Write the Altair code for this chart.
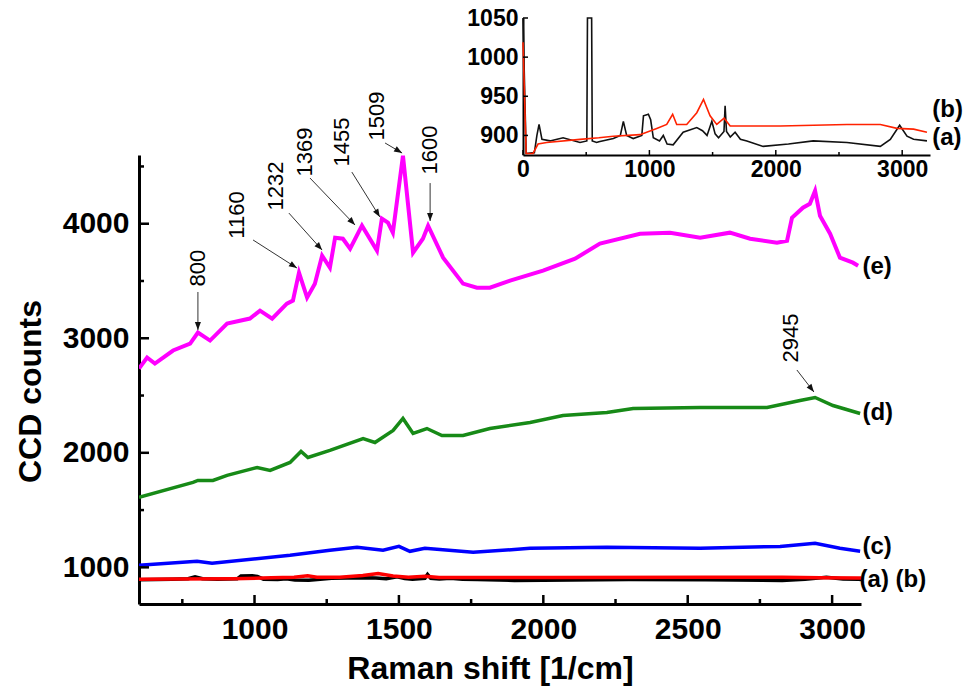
import math
import altair as alt
import pandas as pd

FONT = "Liberation Sans"

# ---------------- data ----------------
# (e) magenta
e_x = [600, 628, 655, 718, 777, 804, 846, 905, 984, 1019, 1061, 1112, 1133, 1154, 1182, 1209,
       1234, 1261, 1279, 1306, 1331, 1372, 1424, 1441, 1462, 1479, 1514, 1549, 1583, 1601, 1653,
       1722, 1770, 1815, 1885, 1999, 2110, 2196, 2335, 2439, 2543, 2646, 2716, 2809, 2844, 2861,
       2899, 2923, 2941, 2958, 2993, 3027, 3072, 3090]
e_y = [2736, 2832, 2779, 2893, 2954, 3050, 2980, 3128, 3172, 3241, 3172, 3302, 3329, 3573, 3355, 3477,
       3721, 3616, 3878, 3869, 3782, 3983, 3765, 4044, 4009, 3922, 4593, 3747, 3869, 3983, 3704,
       3477, 3442, 3442, 3503, 3590, 3695, 3826, 3913, 3922, 3878, 3922, 3869, 3834, 3852, 4052,
       4140, 4174, 4288, 4070, 3913, 3704, 3660, 3634]
# (d) green
d_x = [600, 787, 804, 856, 905, 1009, 1054, 1123, 1161, 1185, 1261, 1376, 1417, 1480, 1514, 1549,
       1597, 1649, 1722, 1815, 1954, 2068, 2220, 2311, 2543, 2775, 2889, 2941, 3003, 3097]
d_y = [1611, 1742, 1759, 1759, 1803, 1872, 1846, 1916, 2012, 1959, 2021, 2125, 2090, 2195, 2300, 2169,
       2212, 2151, 2151, 2212, 2265, 2326, 2352, 2387, 2396, 2396, 2457, 2483, 2413, 2343]
# (c) blue
c_x = [600, 801, 853, 1123, 1261, 1355, 1445, 1500, 1538, 1590, 1757, 1954, 2220, 2543, 2820, 2941, 3027, 3097]
c_y = [1018, 1053, 1035, 1105, 1149, 1175, 1149, 1183, 1140, 1166, 1131, 1166, 1175, 1166, 1183, 1210, 1166, 1140]
# (a) black
a_x = [0, 25, 90, 110, 127, 150, 214, 317, 451, 505, 510, 543, 548, 583, 600, 715, 770, 794, 820, 872,
       940, 953, 992, 1010, 1031, 1080, 1110, 1140, 1188, 1267, 1375, 1420, 1456, 1494, 1520, 1547,
       1590, 1599, 1610, 1640, 1678, 1720, 1771, 1900, 2100, 2296, 2563, 2827, 2906, 2980, 3038, 3090, 3196]
a_y = [1050, 877, 878, 900, 914, 895, 893, 897, 891, 893, 1050, 1050, 893, 891, 892, 896, 900, 918, 900, 896,
       900, 925, 927, 920, 897, 893, 900, 889, 888, 904, 910, 906, 900, 918, 902, 897,
       905, 938, 905, 898, 904, 895, 893, 886, 889, 893, 891, 886, 895, 913, 899, 895, 893]
# (b) red
b_x = [0, 25, 55, 79, 119, 187, 451, 600, 715, 926, 1058, 1137, 1184, 1216, 1295, 1375, 1428, 1480,
       1533, 1591, 1639, 2035, 2563, 2827, 2959, 3090, 3196]
b_y = [1019, 877, 877, 877, 889, 891, 895, 897, 899, 901, 909, 914, 927, 914, 914, 929, 946, 925,
       914, 922, 912, 912, 914, 914, 909, 908, 904]

# peak annotations
ann_text = ["800", "1160", "1232", "1369", "1455", "1509", "1600", "2945"]
ann_x = [804, 939, 1074, 1175, 1303, 1424, 1608, 2858]
ann_y = [3613, 4076, 4329, 4626, 4713, 4940, 4643, 3002]
arr_x0 = [804, 995, 1119, 1192, 1337, 1452, 1608, 2878]
arr_y0 = [3404, 3858, 4093, 4399, 4451, 4705, 4355, 2723]
arr_x1 = [804, 1147, 1234, 1348, 1434, 1511, 1608, 2937]
arr_y1 = [3072, 3613, 3770, 3989, 4059, 4617, 4024, 2531]

# series labels
lab_text = ["(e)", "(d)", "(c)", "(a) (b)"]
lab_x = [3105, 3105, 3105, 3095]
lab_y = [3622, 2347, 1178, 890]
ilab_text = ["(b)", "(a)"]
ilab_x = [3238, 3238]
ilab_y = [932, 897]

# axis ticks
mx_major = [1000, 1500, 2000, 2500, 3000]
mx_minor = [750, 1250, 1750, 2250, 2750]
my_major = [1000, 2000, 3000, 4000]
my_minor = [1500, 2500, 3500, 4500]
ix_major = [0, 1000, 2000, 3000]
ix_minor = [500, 1500, 2500]
iy_major = [900, 950, 1000, 1050]

# ---------------- layout ----------------
W, H = 722, 449
X_DOM, Y_DOM = [600, 3100], [680, 4600]
IX_DOM, IY_DOM = [0, 3220], [875, 1050]
IX_RANGE, IY_RANGE = [384, 791], [0, -137]

xs = alt.Scale(domain=X_DOM, range=[0, W], nice=False, zero=False)
ys = alt.Scale(domain=Y_DOM, range=[H, 0], nice=False, zero=False)
ixs = alt.Scale(domain=IX_DOM, range=IX_RANGE, nice=False, zero=False)
iys = alt.Scale(domain=IY_DOM, range=IY_RANGE, nice=False, zero=False)


def df(**cols):
    return pd.DataFrame(cols)


main_x_axis = alt.Axis(values=mx_major, format="d", orient="bottom", grid=False, ticks=False,
                       domainColor="black", domainWidth=3, labelFont=FONT, labelFontSize=30,
                       labelFontWeight="bold", labelColor="black", labelPadding=10,
                       labelFlush=False, labelOverlap=False,
                       title="Raman shift [1/cm]", titleFont=FONT, titleFontSize=32,
                       titleFontWeight="bold", titleColor="black", titleX=351, titleY=64,
                       titleAlign="center", titleBaseline="middle")
main_y_axis = alt.Axis(values=my_major, format="d", orient="left", grid=False, ticks=False,
                       domainColor="black", domainWidth=3, labelFont=FONT, labelFontSize=30,
                       labelFontWeight="bold", labelColor="black", labelPadding=10,
                       labelFlush=False, labelOverlap=False,
                       title="CCD counts", titleFont=FONT, titleFontSize=32, titleFontWeight="bold",
                       titleColor="black", titleAngle=270, titleX=-109, titleY=236,
                       titleAlign="center", titleBaseline="middle")


def main_line(xv, yv, color, width, axes=False):
    return alt.Chart(df(x=xv, y=yv)).mark_line(color=color, strokeWidth=width, clip=True).encode(
        x=alt.X("x:Q", scale=xs, axis=main_x_axis if axes else None),
        y=alt.Y("y:Q", scale=ys, axis=main_y_axis if axes else None),
    )


def xticks(vals, length, scale, base=H, width=2.5):
    return alt.Chart(df(v=vals)).mark_rule(color="black", strokeWidth=width).encode(
        x=alt.X("v:Q", scale=scale, axis=None), y=alt.value(base), y2=alt.value(base - length))


def yticks(vals, length, scale, base=0, width=2.5):
    return alt.Chart(df(v=vals)).mark_rule(color="black", strokeWidth=width).encode(
        y=alt.Y("v:Q", scale=scale, axis=None), x=alt.value(base), x2=alt.value(base + length))


# arrow angles in screen space
px_x = W / (X_DOM[1] - X_DOM[0])
px_y = H / (Y_DOM[1] - Y_DOM[0])
angles = []
for x0, y0, x1, y1 in zip(arr_x0, arr_y0, arr_x1, arr_y1):
    dx = (x1 - x0) * px_x
    dy = -(y1 - y0) * px_y
    angles.append(math.degrees(math.atan2(dx, -dy)) % 360)

arrows = alt.Chart(df(x0=arr_x0, y0=arr_y0, x1=arr_x1, y1=arr_y1)).mark_rule(
    color="#333333", strokeWidth=1).encode(
    x=alt.X("x0:Q", scale=xs, axis=None), y=alt.Y("y0:Q", scale=ys, axis=None),
    x2="x1:Q", y2="y1:Q")
heads = alt.Chart(df(x=arr_x1, y=arr_y1, a=angles)).mark_point(
    shape="M0,0L0.38,1L-0.38,1Z", filled=True, color="#111111", size=256, opacity=1).encode(
    x=alt.X("x:Q", scale=xs, axis=None), y=alt.Y("y:Q", scale=ys, axis=None),
    angle=alt.Angle("a:Q", scale=None))
ann = alt.Chart(df(t=ann_text, x=ann_x, y=ann_y)).mark_text(
    angle=270, font=FONT, fontSize=22, color="black", align="center", baseline="middle").encode(
    x=alt.X("x:Q", scale=xs, axis=None), y=alt.Y("y:Q", scale=ys, axis=None), text="t:N")
labels = alt.Chart(df(t=lab_text, x=lab_x, y=lab_y)).mark_text(
    font=FONT, fontSize=24, fontWeight="bold", color="black", align="left", baseline="middle").encode(
    x=alt.X("x:Q", scale=xs, axis=None), y=alt.Y("y:Q", scale=ys, axis=None), text="t:N")

# ---------------- inset ----------------
inset_x_axis = alt.Axis(values=ix_major, format="d", orient="bottom", offset=-H, grid=False, ticks=False,
                        domainColor="black", domainWidth=2, labelFont=FONT, labelFontSize=23,
                        labelFontWeight="bold", labelColor="black", labelPadding=3,
                        labelFlush=False, labelOverlap=False, title=None)
inset_y_axis = alt.Axis(values=iy_major, format="d", orient="left", offset=-IX_RANGE[0], grid=False,
                        ticks=False, domainColor="black", domainWidth=2, labelFont=FONT,
                        labelFontSize=23, labelFontWeight="bold", labelColor="black", labelPadding=5,
                        labelFlush=False, labelOverlap=False, title=None)

inset_a = alt.Chart(df(x=a_x, y=a_y)).mark_line(color="#111111", strokeWidth=1.6).encode(
    x=alt.X("x:Q", scale=ixs, axis=inset_x_axis), y=alt.Y("y:Q", scale=iys, axis=inset_y_axis))
inset_b = alt.Chart(df(x=b_x, y=b_y)).mark_line(color="#ff2200", strokeWidth=1.6).encode(
    x=alt.X("x:Q", scale=ixs, axis=None), y=alt.Y("y:Q", scale=iys, axis=None))
inset_labels = alt.Chart(df(t=ilab_text, x=ilab_x, y=ilab_y)).mark_text(
    font=FONT, fontSize=24, fontWeight="bold", color="black", align="left", baseline="middle").encode(
    x=alt.X("x:Q", scale=ixs, axis=None), y=alt.Y("y:Q", scale=iys, axis=None), text="t:N")

layers = [
    main_line(a_x, a_y, "#000000", 3.5, axes=True),
    main_line(b_x, b_y, "#ff0000", 3.5),
    main_line(c_x, c_y, "#0000ff", 3.5),
    main_line(d_x, d_y, "#178a17", 3.5),
    main_line(e_x, e_y, "#ff00ff", 4),
    xticks(mx_major, 9, xs), xticks(mx_minor, 5, xs),
    yticks(my_major, 10, ys), yticks(my_minor, 5, ys),
    arrows, heads, ann, labels,
    inset_a, inset_b,
    xticks(ix_major, 5, ixs, base=0, width=1.5), xticks(ix_minor, 3, ixs, base=0, width=1.5),
    yticks(iy_major, 5, iys, base=IX_RANGE[0], width=1.5),
    inset_labels,
]

chart = alt.layer(*layers).resolve_scale(
    x="independent", y="independent"
).properties(
    width=W, height=H,
    background="white",
    padding={"left": 139, "top": 155, "right": 102, "bottom": 87},
    autosize=alt.AutoSizeParams(type="none"),
).configure_view(stroke=None)

chart.save("out.html", embed_options={"renderer": "svg", "actions": False})
